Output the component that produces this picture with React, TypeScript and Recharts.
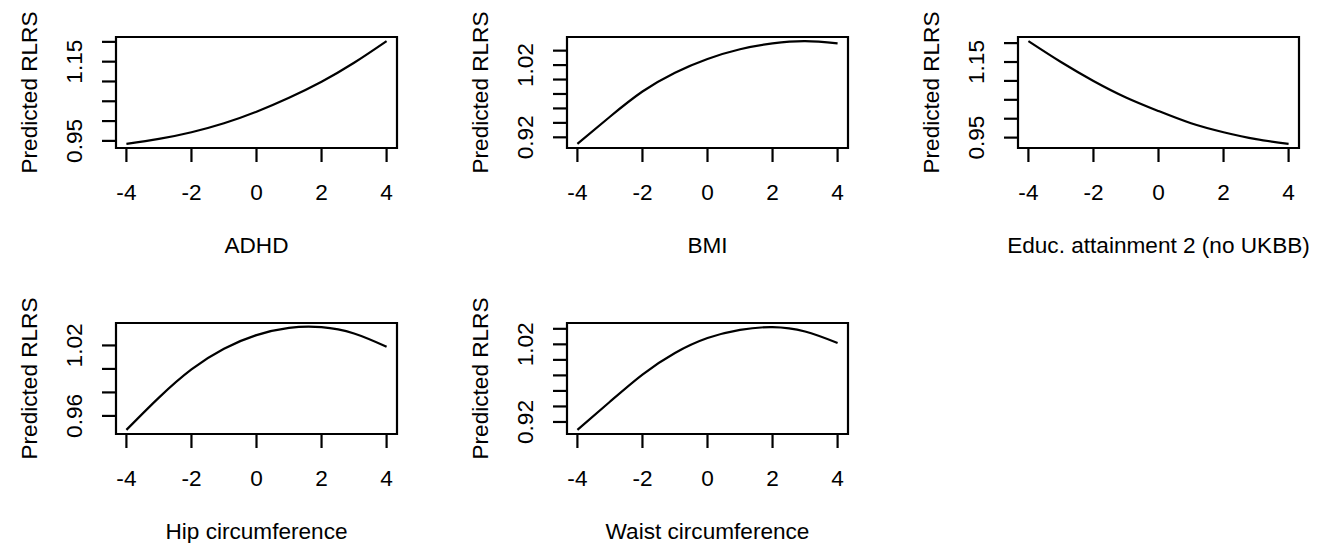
import { LineChart, Line, XAxis, YAxis, ReferenceArea } from "recharts";

// predictor values (standardised) at which the fitted curves were read
const xValues = [-4, -3, -2, -1, 0, 1, 2, 3, 4];
const xTicks = [-4, -2, 0, 2, 4];

// predicted RLRS
const adhd = [0.9424, 0.955, 0.9719, 0.9945, 1.0238, 1.059, 1.0994, 1.1472, 1.2019];
const bmi = [0.9109, 0.9485, 0.9834, 1.0095, 1.0285, 1.042, 1.05, 1.0532, 1.05];
const educ = [1.2053, 1.15, 1.1, 1.0563, 1.0203, 0.9879, 0.9642, 0.9458, 0.9334];
const hip = [0.9481, 0.9756, 0.9996, 1.0172, 1.0288, 1.035, 1.0356, 1.0302, 1.0189];
const waist = [0.9098, 0.9461, 0.9811, 1.0089, 1.0281, 1.0387, 1.0422, 1.0365, 1.0217];

// y ticks and the ones that carry a label
const ticksWide = [0.95, 1.0, 1.05, 1.1, 1.15, 1.2];
const labelsWide = [0.95, 1.15];
const ticksNarrow = [0.92, 0.94, 0.96, 0.98, 1.0, 1.02, 1.04];
const labelsNarrow = [0.92, 1.02];
const ticksHip = [0.96, 0.98, 1.0, 1.02];
const labelsHip = [0.96, 1.02];

const FONT = "'Liberation Sans', Arial, Helvetica, sans-serif";
const FS = 22.6;
const LW = 2.2;
const PLOT_W = 281;
const PLOT_H = 111;
const LEFT = 110; // space for y axis
const TOP = 37;

type PanelProps = {
    title: string;
    values: number[];
    yTicks: number[];
    yLabels: number[];
    left: number;
    top: number;
};

const Panel = ({ title, values, yTicks, yLabels, left, top }: PanelProps) => {
    const data = xValues.map((x, i) => ({ x, y: values[i] }));
    // R style 4% padding around the data range
    const lo = Math.min(...values);
    const hi = Math.max(...values);
    const pad = (hi - lo) * 0.04;
    const yDomain = [lo - pad, hi + pad];

    const XTick = (props: any) => (
        <text x={props.x} y={props.y + 38} textAnchor="middle" fontSize={FS} fontFamily={FONT} fill="#000">
            {props.payload.value}
        </text>
    );

    const YTick = (props: any) => {
        const v = props.payload.value;
        if (!yLabels.some((l) => Math.abs(l - v) < 1e-6)) return <g />;
        const tx = props.x - 20;
        return (
            <text
                x={tx}
                y={props.y}
                transform={`rotate(-90 ${tx} ${props.y})`}
                textAnchor="middle"
                fontSize={FS}
                fontFamily={FONT}
                fill="#000"
            >
                {v.toFixed(2)}
            </text>
        );
    };

    return (
        <div style={{ position: "absolute", left: left - LEFT, top: top - TOP }}>
            <LineChart
                width={LEFT + PLOT_W + 20}
                height={TOP + PLOT_H + 110}
                data={data}
                margin={{ top: TOP, right: 20, bottom: 0, left: 0 }}
            >
                <XAxis
                    type="number"
                    dataKey="x"
                    domain={[-4.32, 4.32]}
                    allowDataOverflow
                    ticks={xTicks}
                    interval={0}
                    height={110}
                    tickSize={14}
                    tickMargin={0}
                    axisLine={false}
                    tickLine={{ stroke: "#000", strokeWidth: LW }}
                    tick={XTick}
                    label={{
                        content: () => (
                            <text
                                x={LEFT + PLOT_W / 2}
                                y={TOP + PLOT_H + 105}
                                textAnchor="middle"
                                fontSize={FS}
                                fontFamily={FONT}
                                fill="#000"
                            >
                                {title}
                            </text>
                        ),
                    }}
                />
                <YAxis
                    type="number"
                    domain={yDomain}
                    allowDataOverflow
                    ticks={yTicks}
                    interval={0}
                    width={LEFT}
                    tickSize={14}
                    tickMargin={0}
                    axisLine={false}
                    tickLine={{ stroke: "#000", strokeWidth: LW }}
                    tick={YTick}
                    label={{
                        content: () => (
                            <text
                                x={LEFT - 79}
                                y={TOP + PLOT_H / 2}
                                transform={`rotate(-90 ${LEFT - 79} ${TOP + PLOT_H / 2})`}
                                textAnchor="middle"
                                fontSize={FS}
                                fontFamily={FONT}
                                fill="#000"
                            >
                                Predicted RLRS
                            </text>
                        ),
                    }}
                />
                <ReferenceArea
                    x1={-4.32}
                    x2={4.32}
                    y1={yDomain[0]}
                    y2={yDomain[1]}
                    fill="none"
                    stroke="#000"
                    strokeWidth={LW}
                    ifOverflow="visible"
                />
                <Line
                    type="natural"
                    dataKey="y"
                    stroke="#000"
                    strokeWidth={LW}
                    dot={false}
                    isAnimationActive={false}
                />
            </LineChart>
        </div>
    );
};

export default function App() {
    return (
        <div
            style={{
                position: "absolute",
                left: 0,
                top: 0,
                width: 1321,
                height: 543,
                overflow: "hidden",
                background: "#fff",
            }}
        >
            <Panel title="ADHD" values={adhd} yTicks={ticksWide} yLabels={labelsWide} left={116} top={37} />
            <Panel title="BMI" values={bmi} yTicks={ticksNarrow} yLabels={labelsNarrow} left={567} top={37} />
            <Panel
                title="Educ. attainment 2 (no UKBB)"
                values={educ}
                yTicks={ticksWide}
                yLabels={labelsWide}
                left={1018}
                top={37}
            />
            <Panel title="Hip circumference" values={hip} yTicks={ticksHip} yLabels={labelsHip} left={116} top={323} />
            <Panel
                title="Waist circumference"
                values={waist}
                yTicks={ticksNarrow}
                yLabels={labelsNarrow}
                left={567}
                top={323}
            />
        </div>
    );
}
